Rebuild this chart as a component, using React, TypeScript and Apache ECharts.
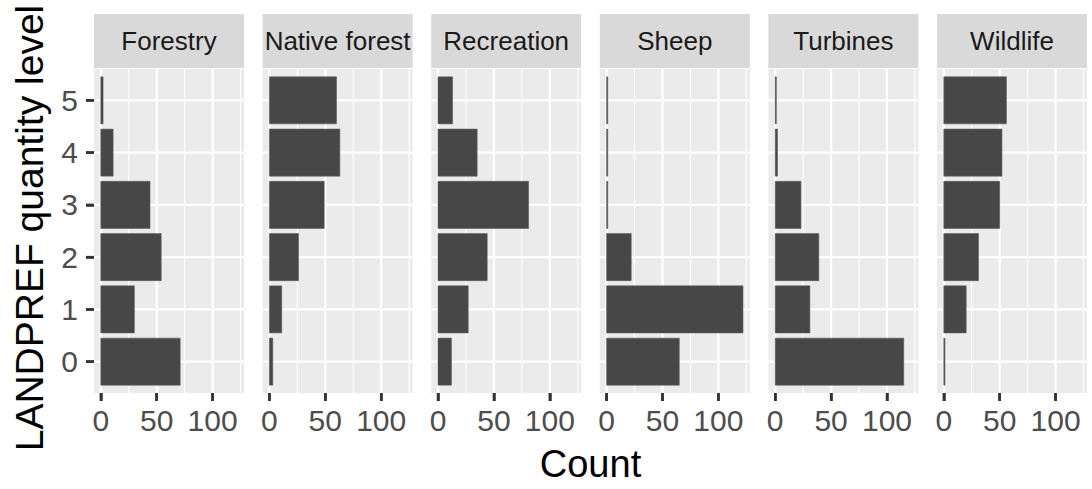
import React, { useEffect, useRef } from 'react';
import * as echarts from 'echarts';

// ---- data ----
const FACETS = ['Forestry', 'Native forest', 'Recreation', 'Sheep', 'Turbines', 'Wildlife'];
const LEVELS = ['0', '1', '2', '3', '4', '5'];
// counts per level (index 0 -> level "0")
const forestry = [71, 30, 54, 44, 11, 2];
const nativeForest = [3, 11, 26, 49, 63, 60];
const recreation = [12, 27, 44, 81, 35, 13];
const sheep = [65, 122, 22, 1, 1, 1];
const turbines = [115, 31, 39, 23, 2, 1];
const wildlife = [1, 20, 31, 50, 52, 56];
const COUNTS = [forestry, nativeForest, recreation, sheep, turbines, wildlife];

const X_MAJOR = [0, 50, 100];
const X_MINOR = [25, 75, 125];
const X_TITLE = 'Count';
const Y_TITLE = 'LANDPREF quantity level';

// ---- layout / style ----
const FONT = 'Liberation Sans, Arial, Helvetica, sans-serif';
const PANEL_LEFT0 = 94;
const PANEL_STEP = 168.6;
const PANEL_W = 150;
const PANEL_TOP = 69;
const PANEL_H = 324;
const STRIP_TOP = 14;
const STRIP_H = 54;
const TICK_LEN = 8;
const TICK_W = 2.5;
const TICK_COLOR = '#333333';

export default function App() {
  const ref = useRef<HTMLDivElement>(null);

  useEffect(() => {
    const chart = echarts.init(ref.current!, null, { renderer: 'svg' });

    const maxCount = Math.max(...COUNTS.flat());
    // ggplot-style expansion: 5% on continuous, 0.6 on discrete
    const xMin = -maxCount * 0.05;
    const xMax = maxCount * 1.05;
    const yMin = -0.6;
    const yMax = LEVELS.length - 1 + 0.6;
    const nF = FACETS.length;

    const grids: any[] = [];
    const xAxes: any[] = [];
    const yAxes: any[] = [];
    const series: any[] = [];
    const graphics: any[] = [];

    const tickOpt = (vals: number[], show: boolean) => ({
      show,
      inside: false,
      customValues: vals,
      length: TICK_LEN,
      lineStyle: { color: TICK_COLOR, width: TICK_W },
    });

    FACETS.forEach((name, i) => {
      const left = PANEL_LEFT0 + i * PANEL_STEP;
      const first = i === 0;
      grids.push({
        left,
        top: PANEL_TOP,
        width: PANEL_W,
        height: PANEL_H,
        show: true,
        backgroundColor: '#EBEBEB',
        borderWidth: 0,
        containLabel: false,
      });
      xAxes.push({
        type: 'value',
        gridIndex: i,
        min: xMin,
        max: xMax,
        // sit on the helper y-axis zero, i.e. the panel's bottom edge
        axisLine: { show: false, onZero: true, onZeroAxisIndex: nF + i },
        splitLine: { show: false },
        axisTick: tickOpt(X_MAJOR, true),
        axisLabel: {
          show: true,
          customValues: X_MAJOR,
          fontSize: 30,
          fontFamily: FONT,
          color: '#4D4D4D',
          margin: 12,
          showMinLabel: true,
          showMaxLabel: true,
        },
      });
      yAxes.push({
        type: 'value',
        gridIndex: i,
        min: yMin,
        max: yMax,
        axisLine: first
          ? { show: false, onZero: true, onZeroAxisIndex: nF }
          : { show: false, onZero: false },
        splitLine: { show: false },
        axisTick: tickOpt(LEVELS.map((_, j) => j), first),
        axisLabel: {
          show: first,
          customValues: LEVELS.map((_, j) => j),
          formatter: (v: number) => LEVELS[Math.round(v)] ?? '',
          fontSize: 30,
          fontFamily: FONT,
          color: '#4D4D4D',
          margin: 16,
        },
      });

      // vertical grid lines
      const vData = [
        ...X_MAJOR.map((v) => [v, 1]),
        ...X_MINOR.map((v) => [v, 0]),
      ];
      series.push({
        type: 'custom',
        xAxisIndex: i,
        yAxisIndex: i,
        z: 1,
        silent: true,
        encode: { x: 0, y: 1 },
        data: vData,
        renderItem: (params: any, api: any) => {
          const v = api.value(0);
          const major = api.value(1) === 1;
          const p1 = api.coord([v, yMin]);
          const p2 = api.coord([v, yMax]);
          return {
            type: 'line',
            shape: { x1: p1[0], y1: p1[1], x2: p2[0], y2: p2[1] },
            style: { stroke: '#FFFFFF', lineWidth: major ? 2.2 : 1.1 },
          };
        },
      });
      // horizontal grid lines at level centres
      series.push({
        type: 'custom',
        xAxisIndex: i,
        yAxisIndex: i,
        z: 1,
        silent: true,
        encode: { x: 0, y: 1 },
        data: LEVELS.map((_, j) => [0, j]),
        renderItem: (params: any, api: any) => {
          const j = api.value(1);
          const p1 = api.coord([xMin, j]);
          const p2 = api.coord([xMax, j]);
          return {
            type: 'line',
            shape: { x1: p1[0], y1: p1[1], x2: p2[0], y2: p2[1] },
            style: { stroke: '#FFFFFF', lineWidth: 2.2 },
          };
        },
      });
      // bars
      series.push({
        type: 'custom',
        name,
        xAxisIndex: i,
        yAxisIndex: i,
        z: 3,
        encode: { x: 0, y: 1 },
        data: COUNTS[i].map((c, j) => [c, j]),
        renderItem: (params: any, api: any) => {
          const v = api.value(0);
          const j = api.value(1);
          const p0 = api.coord([0, j + 0.45]);
          const p1 = api.coord([v, j - 0.45]);
          return {
            type: 'rect',
            shape: { x: p0[0], y: p0[1], width: p1[0] - p0[0], height: p1[1] - p0[1] },
            style: { fill: '#474747', stroke: '#5A5A5A', lineWidth: 0.6 },
          };
        },
      });

      // strip
      graphics.push({
        type: 'rect',
        shape: { x: left, y: STRIP_TOP, width: PANEL_W, height: STRIP_H },
        style: { fill: '#D9D9D9' },
        silent: true,
      });
      graphics.push({
        type: 'text',
        x: left + PANEL_W / 2,
        y: STRIP_TOP + STRIP_H / 2,
        style: {
          text: name,
          fill: '#1A1A1A',
          font: `26px ${FONT}`,
          align: 'center',
          verticalAlign: 'middle',
        },
        silent: true,
      });
    });

    // helper y-axes (one per panel): 0 at the panel bottom, used only as the
    // crossing point of each x-axis
    FACETS.forEach((_, i) => {
      yAxes.push({
        type: 'value',
        gridIndex: i,
        position: 'right',
        min: 0,
        max: 1,
        show: false,
        axisLine: { show: false, onZero: false },
        axisTick: { show: false },
        axisLabel: { show: false },
        splitLine: { show: false },
      });
    });
    // helper x-axis for the first panel: 0 at the panel's left edge
    xAxes.push({
      type: 'value',
      gridIndex: 0,
      position: 'top',
      min: 0,
      max: 1,
      show: false,
      axisLine: { show: false, onZero: false },
      axisTick: { show: false },
      axisLabel: { show: false },
      splitLine: { show: false },
    });

    const panelsLeft = PANEL_LEFT0;
    const panelsRight = PANEL_LEFT0 + (nF - 1) * PANEL_STEP + PANEL_W;
    graphics.push({
      type: 'text',
      x: (panelsLeft + panelsRight) / 2,
      y: 464,
      style: {
        text: X_TITLE,
        fill: '#000000',
        font: `38px ${FONT}`,
        align: 'center',
        verticalAlign: 'middle',
      },
      silent: true,
    });
    graphics.push({
      type: 'text',
      x: 29,
      y: PANEL_TOP + PANEL_H / 2 - 3,
      rotation: Math.PI / 2,
      style: {
        text: Y_TITLE,
        fill: '#000000',
        font: `39px ${FONT}`,
        align: 'center',
        verticalAlign: 'middle',
      },
      silent: true,
    });

    chart.setOption({
      animation: false,
      backgroundColor: '#FFFFFF',
      grid: grids,
      xAxis: xAxes,
      yAxis: yAxes,
      series,
      graphic: { elements: graphics },
    });

    // tick marks as graphic rects, placed through the library's scales
    const ticks: any[] = [];
    FACETS.forEach((_, i) => {
      X_MAJOR.forEach((v) => {
        const p = chart.convertToPixel({ xAxisIndex: i, yAxisIndex: i }, [v, yMin]) as any;
        if (!p || isNaN(p[0])) return;
        ticks.push({
          type: 'rect',
          shape: { x: p[0] - TICK_W / 2, y: p[1], width: TICK_W, height: TICK_LEN },
          style: { fill: TICK_COLOR },
          silent: true,
          z: 50,
        });
      });
    });
    LEVELS.forEach((_, j) => {
      const p = chart.convertToPixel({ xAxisIndex: 0, yAxisIndex: 0 }, [xMin, j]) as any;
      if (!p || isNaN(p[0])) return;
      ticks.push({
        type: 'rect',
        shape: { x: p[0] - TICK_LEN, y: p[1] - TICK_W / 2, width: TICK_LEN, height: TICK_W },
        style: { fill: TICK_COLOR },
        silent: true,
        z: 50,
      });
    });
    if (ticks.length) {
      chart.setOption({ graphic: { elements: [...graphics, ...ticks] } });
    }

    return () => chart.dispose();
  }, []);

  return (
    <div
      ref={ref}
      style={{ position: 'absolute', left: 0, top: 0, width: 1092, height: 489 }}
    />
  );
}
